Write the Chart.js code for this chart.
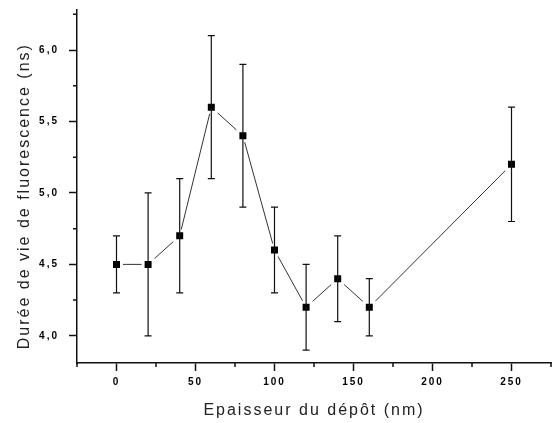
<!DOCTYPE html>
<html>
<head>
<meta charset="utf-8">
<script src="https://cdn.jsdelivr.net/npm/chart.js@4"></script>
<style>
  html, body { margin: 0; padding: 0; background: #fff; }
  #wrap { width: 552px; height: 423px; }
</style>
</head>
<body>
<div id="wrap"><canvas id="chart" width="552" height="423"></canvas></div>
<script>
// Durée de vie vs épaisseur du dépôt
const thickness = [0, 20, 40, 60, 80, 100, 120, 140, 160, 250];
const lifetime  = [4.5, 4.5, 4.7, 5.6, 5.4, 4.6, 4.2, 4.4, 4.2, 5.2];
const errLow    = [4.3, 4.0, 4.3, 5.1, 4.9, 4.3, 3.9, 4.1, 4.0, 4.8];
const errHigh   = [4.7, 5.0, 5.1, 6.1, 5.9, 4.9, 4.5, 4.7, 4.4, 5.6];

const xTicks = [0, 50, 100, 150, 200, 250];
const xMinorTicks = [-25, 25, 75, 125, 175, 225, 275];
const yTicks = [4.0, 4.5, 5.0, 5.5, 6.0];
const yMinorTicks = [4.25, 4.75, 5.25, 5.75, 6.25];

const tickFont = { family: "'Liberation Sans', Arial, sans-serif", size: 10, weight: "bold" };
const titleFont = { family: "'Liberation Sans', Arial, sans-serif", size: 16 };

// spacing like the original bitmap font
const spacing = {
    id: "spacing",
    beforeDraw(chart) { chart.ctx.letterSpacing = "2px"; },
    afterDraw(chart) { chart.ctx.letterSpacing = "0px"; }
};

// error bars + minor ticks
const extras = {
    id: "extras",
    afterDatasetsDraw(chart) {
        const ctx = chart.ctx, x = chart.scales.x, y = chart.scales.y;
        ctx.save();
        ctx.strokeStyle = "#111";
        ctx.lineWidth = 1.2;
        thickness.forEach((t, i) => {
            const px = x.getPixelForValue(t);
            const top = y.getPixelForValue(errHigh[i]);
            const bot = y.getPixelForValue(errLow[i]);
            ctx.beginPath();
            ctx.moveTo(px, top); ctx.lineTo(px, bot);
            ctx.moveTo(px - 3.5, top); ctx.lineTo(px + 3.5, top);
            ctx.moveTo(px - 3.5, bot); ctx.lineTo(px + 3.5, bot);
            ctx.stroke();
        });
        ctx.restore();
    },
    afterDraw(chart) {
        const ctx = chart.ctx, x = chart.scales.x, y = chart.scales.y;
        const area = chart.chartArea;
        ctx.save();
        ctx.strokeStyle = "#111";
        ctx.lineWidth = 1.5;
        ctx.beginPath();
        xMinorTicks.forEach(v => {
            const px = x.getPixelForValue(v);
            ctx.moveTo(px, area.bottom); ctx.lineTo(px, area.bottom + 4);
        });
        yMinorTicks.forEach(v => {
            const py = y.getPixelForValue(v);
            ctx.moveTo(area.left, py); ctx.lineTo(area.left - 4, py);
        });
        ctx.stroke();
        ctx.restore();
    }
};

function noPad(s) {
    s.paddingLeft = s.paddingRight = s.paddingTop = s.paddingBottom = 0;
}

new Chart(document.getElementById("chart"), {
    type: "line",
    data: {
        datasets: [{
            data: thickness.map((t, i) => ({ x: t, y: lifetime[i] })),
            borderColor: "#333",
            borderWidth: 1,
            pointStyle: "rect",
            pointRadius: 7.07,
            pointBackgroundColor: "#000",
            pointBorderColor: "#fff",
            pointBorderWidth: 3,
            tension: 0
        }]
    },
    options: {
        responsive: false,
        animation: false,
        events: [],
        layout: { autoPadding: false, padding: { top: 10, right: 1, left: 0, bottom: 0 } },
        plugins: { legend: { display: false }, tooltip: { enabled: false } },
        scales: {
            x: {
                type: "linear",
                min: -25,
                max: 275,
                afterFit: s => { s.height = 60; noPad(s); },
                afterBuildTicks: s => { s.ticks = xTicks.map(v => ({ value: v })); },
                grid: { drawOnChartArea: false, drawTicks: true, tickLength: 8, tickWidth: 1.5, tickColor: "#111" },
                border: { color: "#111", width: 1.5 },
                ticks: { color: "#000", font: tickFont, padding: 5, maxRotation: 0, autoSkip: false },
                title: { display: true, text: "Epaisseur du dépôt (nm)", color: "#222", font: titleFont, padding: { top: 0, bottom: 3 } }
            },
            y: {
                type: "linear",
                min: 3.81,
                max: 6.28,
                afterFit: s => { s.width = 77; noPad(s); },
                afterBuildTicks: s => { s.ticks = yTicks.map(v => ({ value: v })); },
                grid: { drawOnChartArea: false, drawTicks: true, tickLength: 8, tickWidth: 1.5, tickColor: "#111" },
                border: { color: "#111", width: 1.5 },
                ticks: {
                    color: "#000", font: tickFont, padding: 10, autoSkip: false,
                    callback: v => v.toFixed(1).replace(".", ",")
                },
                title: { display: true, text: "Durée de vie de fluorescence (ns)   ", color: "#222", font: titleFont, padding: { top: 15, bottom: 0 } }
            }
        }
    },
    plugins: [spacing, extras]
});
</script>
</body>
</html>
